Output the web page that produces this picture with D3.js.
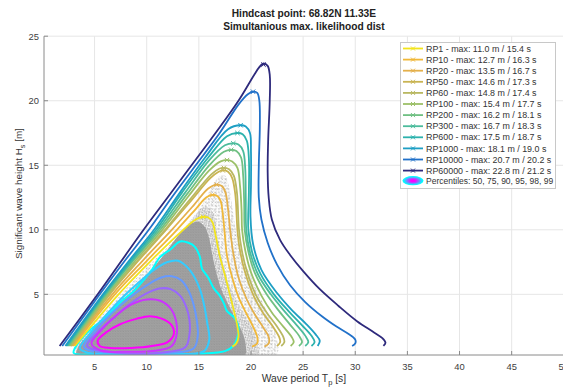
<!DOCTYPE html>
<html><head><meta charset="utf-8">
<script src="https://cdn.jsdelivr.net/npm/d3@7"></script>
<style>body{margin:0;background:#fff}svg{display:block;font-family:"Liberation Sans",Arial,sans-serif}</style>
</head><body><svg id="c" width="563" height="390"></svg>
<script>
// ---------- data ----------
const titleLines = ["Hindcast point: 68.82N 11.33E", "Simultanious max. likelihood dist"];
const xTicks = [5, 10, 15, 20, 25, 30, 35, 40, 45, 50];
const yTicks = [5, 10, 15, 20, 25];
const rpLabels = ["RP1","RP10","RP20","RP50","RP60","RP100","RP200","RP300","RP600","RP1000","RP10000","RP60000"];
const rpMaxHs = [11.0, 12.7, 13.5, 14.6, 14.8, 15.4, 16.2, 16.7, 17.5, 18.1, 20.7, 22.8];
const rpMaxTp = [15.4, 16.3, 16.7, 17.3, 17.4, 17.7, 18.1, 18.3, 18.7, 19.0, 20.2, 21.2];
const rpColors = ["#f2e41c","#f0b83a","#e4b04c","#c9b453","#b9b862","#9cc068","#70c083","#4cbc9c","#2cb2ad","#1e9fc4","#2171c9","#2e2a7c"];

// contour curves [Tp, Hs]
const rp1 = [[3.1,1.0],[7.3,5.0],[10.4,7.6],[13.5,10.0],[14.7,10.8],[15.4,11.0],[15.9,10.95],[16.3,10.6],[16.6,9.6],[17.0,8.0],[17.5,6.5],[18.0,4.9],[18.4,3.6],[18.7,2.5],[18.8,1.7],[18.6,1.2],[18.2,0.95]];
const rp10 = [[2.95,1.0],[6.95,5.0],[9.9,7.5],[12.9,10.0],[14.8,11.7],[15.7,12.5],[16.3,12.7],[16.8,12.6],[17.1,12.2],[17.3,11.2],[17.45,10.0],[17.7,8.0],[18.2,6.3],[18.8,4.8],[19.5,3.6],[20.2,2.5],[20.6,1.7],[20.6,1.2],[20.1,0.95]];
const rp20 = [[2.85,1.0],[6.7,5.0],[9.6,7.6],[12.4,10.0],[14.5,11.9],[15.9,13.2],[16.7,13.5],[17.2,13.4],[17.55,12.9],[17.8,11.6],[18.0,10.0],[18.3,8.2],[18.8,6.3],[19.6,4.6],[20.4,3.4],[21.2,2.4],[21.7,1.7],[21.7,1.2],[21.3,0.95]];
const rp50 = [[2.75,1.0],[6.45,5.0],[9.2,7.6],[11.85,10.0],[14.2,12.2],[16.1,14.0],[16.9,14.5],[17.3,14.6],[17.8,14.5],[18.2,14.0],[18.5,12.7],[18.7,10.0],[18.9,8.6],[19.4,6.8],[20.3,4.8],[21.2,3.5],[22.1,2.5],[22.7,1.7],[22.8,1.3],[22.5,1.0]];
const rp60 = [[2.7,1.0],[6.4,5.0],[9.1,7.6],[11.75,10.0],[14.2,12.4],[16.2,14.3],[17.0,14.75],[17.4,14.8],[17.9,14.7],[18.35,14.2],[18.65,12.9],[18.85,10.0],[19.1,8.5],[19.6,6.8],[20.5,4.9],[21.5,3.6],[22.5,2.5],[23.1,1.7],[23.2,1.3],[22.9,1.0]];
const rp100 = [[2.6,1.0],[6.25,5.0],[8.9,7.6],[11.5,10.0],[14.0,12.6],[16.0,14.6],[17.1,15.3],[17.7,15.4],[18.2,15.3],[18.7,14.8],[18.95,13.4],[19.1,11.5],[19.15,10.0],[19.45,8.4],[20.0,6.7],[21.0,4.9],[22.0,3.6],[23.1,2.5],[23.9,1.7],[24.1,1.3],[23.8,1.0]];
const rp200 = [[2.5,1.0],[6.1,5.0],[8.7,7.6],[11.3,10.0],[13.9,12.8],[16.0,15.0],[17.4,16.05],[18.1,16.2],[18.6,16.1],[19.05,15.6],[19.25,14.2],[19.35,12.0],[19.4,10.0],[19.75,8.3],[20.4,6.6],[21.5,5.0],[22.7,3.7],[23.8,2.6],[24.6,1.8],[24.9,1.3],[24.6,1.0]];
const rp300 = [[2.4,1.0],[6.0,5.0],[8.6,7.6],[11.1,10.0],[13.7,12.9],[16.0,15.4],[17.5,16.55],[18.3,16.7],[18.8,16.6],[19.25,16.1],[19.45,14.7],[19.5,12.5],[19.55,10.0],[19.9,8.3],[20.7,6.5],[21.9,5.0],[23.2,3.7],[24.4,2.6],[25.2,1.8],[25.5,1.3],[25.2,1.0]];
const rp600 = [[2.3,1.0],[5.9,5.0],[8.45,7.6],[10.9,10.0],[13.4,12.9],[15.9,15.6],[17.7,17.25],[18.7,17.5],[19.2,17.4],[19.6,16.9],[19.8,15.5],[19.8,13.0],[19.75,10.0],[20.1,8.3],[20.9,6.6],[22.2,5.0],[23.6,3.7],[24.9,2.6],[25.8,1.8],[26.1,1.3],[25.8,1.0]];
const rp1000 = [[2.2,1.0],[5.8,5.0],[8.3,7.6],[10.7,10.0],[13.2,12.9],[15.6,15.6],[17.8,17.8],[19.0,18.1],[19.5,18.0],[19.9,17.5],[20.0,16.0],[20.0,13.5],[19.95,11.0],[20.2,8.9],[21.0,6.9],[22.5,5.1],[23.9,3.8],[25.3,2.7],[26.2,1.9],[26.6,1.4],[26.4,1.0]];
const rp10000 = [[1.9,1.0],[5.5,5.0],[7.9,7.6],[10.2,10.0],[12.4,12.5],[14.7,15.0],[17.0,17.5],[18.8,19.7],[19.7,20.5],[20.2,20.7],[20.6,20.6],[20.8,20.0],[20.85,18.0],[20.75,15.0],[20.75,12.5],[21.0,10.8],[21.6,9.0],[22.5,7.3],[23.75,5.7],[25.2,4.4],[26.8,3.3],[28.2,2.5],[29.4,1.9],[30.0,1.5],[30.0,1.2],[29.7,1.0]];
const rp60000 = [[1.65,1.0],[5.3,5.0],[7.5,7.5],[9.7,10.0],[12.0,12.5],[14.3,15.0],[16.6,17.5],[18.8,20.0],[20.3,22.0],[20.8,22.6],[21.2,22.9],[21.6,22.7],[21.8,22.0],[21.8,20.0],[21.65,17.0],[21.6,14.5],[21.7,12.5],[22.0,10.8],[22.8,9.2],[23.75,8.05],[25.0,6.8],[26.6,5.4],[28.4,4.1],[30.2,2.9],[31.7,2.1],[32.6,1.6],[32.9,1.25],[32.7,1.0]];
const rpCurves = [rp1, rp10, rp20, rp50, rp60, rp100, rp200, rp300, rp600, rp1000, rp10000, rp60000];

// percentile contours [Tp, Hs]
const pctLabels = [50, 75, 90, 95, 98, 99];
const pctColors = ["#ff00ff","#cc33ff","#9966ff","#6699ff","#33ccff","#00ffff"];
const p50 = [[5.3,1.4],[6.2,2.1],[7.5,2.7],[9.0,3.1],[10.3,3.3],[11.5,3.1],[12.4,2.6],[12.6,1.9],[12.0,1.3],[10.5,1.0],[8.5,0.85],[6.5,0.85],[5.5,1.0]];
const p75 = [[4.7,1.2],[5.6,2.2],[7.0,3.3],[8.5,4.2],[10.0,4.6],[11.3,4.5],[12.3,3.9],[12.8,3.0],[12.9,2.0],[12.4,1.0],[11.0,0.65],[8.0,0.55],[5.6,0.65]];
const p90 = [[4.3,1.0],[5.2,2.0],[6.7,3.1],[8.3,4.2],[9.8,5.0],[11.2,5.45],[12.3,5.4],[13.2,4.9],[13.8,4.0],[14.1,3.0],[14.1,1.9],[13.7,0.9],[11.5,0.5],[7.0,0.5]];
const p95 = [[4.0,0.9],[5.0,2.1],[6.6,3.5],[8.3,4.7],[10.0,5.7],[11.4,6.3],[12.4,6.4],[13.3,6.1],[14.0,5.3],[14.5,4.2],[14.8,3.0],[14.9,1.8],[14.5,0.8],[12.0,0.45],[7.0,0.45]];
const p98 = [[3.6,0.8],[4.5,1.9],[6.0,3.3],[7.6,4.7],[9.2,5.9],[10.7,6.9],[12.0,7.5],[13.0,7.6],[13.9,7.1],[14.6,6.3],[15.1,5.4],[15.5,4.2],[15.8,2.8],[16.0,1.5],[15.5,0.6],[12.0,0.35],[7.0,0.35],[4.5,0.45]];
const p99 = [[3.0,0.45],[3.4,1.2],[4.5,2.2],[6.2,3.3],[7.5,4.4],[8.7,5.2],[9.8,6.2],[10.5,6.9],[11.3,7.9],[12.3,8.5],[13.2,9.1],[14.0,9.0],[14.6,8.7],[15.1,7.9],[15.3,7.0],[15.9,6.3],[16.4,5.5],[17.0,4.9],[17.4,4.3],[17.7,3.7],[18.4,3.2],[18.8,2.5],[18.7,1.7],[18.3,1.0],[17.5,0.6],[15.0,0.4],[10.0,0.35],[5.0,0.35]];
const pctCurves = [p50, p75, p90, p95, p98, p99];

// hindcast data cloud envelopes [Tp, Hs]
const scatterSparse = [[3.3,0.3],[3.4,1.2],[7.3,4.8],[10.4,7.4],[13.4,9.8],[14.8,11.2],[15.6,12.4],[16.3,13.4],[16.9,14.1],[17.5,14.2],[17.9,13.3],[18.2,11.8],[18.6,9.8],[19.3,7.8],[20.2,6.0],[21.1,4.4],[21.9,3.0],[22.4,1.8],[22.4,0.3]];
const scatterMid = [[3.3,0.3],[3.4,1.1],[5.5,2.9],[8.0,4.9],[10.5,7.0],[12.6,8.9],[13.8,10.3],[14.8,11.3],[15.6,11.8],[16.3,11.4],[16.7,10.0],[17.1,8.2],[17.6,6.6],[18.3,5.0],[19.2,3.6],[20.1,2.4],[20.6,1.2],[20.6,0.3]];
const scatterDense = [[3.3,0.3],[3.5,1.0],[4.8,2.2],[6.5,3.6],[8.2,4.9],[9.8,6.3],[11.2,7.6],[12.4,8.9],[13.4,9.9],[14.3,10.5],[15.0,10.6],[15.6,10.2],[16.0,9.3],[16.3,8.0],[16.7,6.6],[17.2,5.3],[17.9,4.1],[18.6,3.0],[19.2,2.0],[19.5,1.0],[19.4,0.3]];

// ---------- drawing ----------
const svg = d3.select("#c");
const L = 44, R = 563.8, T = 36.2, B = 355;
const x = d3.scaleLinear().domain([0.15, 50]).range([L, R]);
const y = d3.scaleLinear().domain([0.3, 25]).range([B, T]);

const defs = svg.append("defs");
defs.append("clipPath").attr("id","clip").append("rect").attr("x",L).attr("y",T).attr("width",R-L).attr("height",B-T);
function xPattern(id, w, h, col, rot, bg) {
  const p = defs.append("pattern").attr("id",id).attr("width",w).attr("height",h).attr("patternUnits","userSpaceOnUse");
  if (rot) p.attr("patternTransform",`rotate(${rot})`);
  if (bg) p.append("rect").attr("width",w).attr("height",h).attr("fill",bg);
  p.append("path").attr("d","M0.2,0.2L2,2M2,0.2L0.2,2").attr("stroke",col).attr("stroke-width",0.6);
}
xPattern("xa", 3.3, 3.3, "#b0b0b0", 0);
xPattern("xb", 4.7, 4.1, "#b8b8b8", 20);
xPattern("xm", 2.4, 2.4, "#a4a4a4", 35);
xPattern("xd", 2.6, 2.6, "#939393", 0, "#a2a2a2");

// grid
const grid = svg.append("g");
grid.selectAll("line.gx").data(xTicks).join("line")
  .attr("x1",d=>x(d)).attr("x2",d=>x(d)).attr("y1",T).attr("y2",B).attr("stroke","#e6e6e6");
grid.selectAll("line.gy").data(yTicks).join("line")
  .attr("x1",L).attr("x2",R).attr("y1",d=>y(d)).attr("y2",d=>y(d)).attr("stroke","#e6e6e6");

const plot = svg.append("g").attr("clip-path","url(#clip)");
const closed = d3.line().x(d=>x(d[0])).y(d=>y(d[1])).curve(d3.curveCatmullRomClosed.alpha(0.5));
plot.append("path").attr("d",closed(scatterSparse)).attr("fill","url(#xa)");
plot.append("path").attr("d",closed(scatterSparse)).attr("fill","url(#xb)");
plot.append("path").attr("d",closed(scatterMid)).attr("fill","url(#xm)");
plot.append("path").attr("d",closed(scatterDense)).attr("fill","url(#xd)");

// percentile contours (outer first)
for (let i = pctCurves.length-1; i >= 0; i--) {
  plot.append("path").attr("d",closed(pctCurves[i])).attr("fill","none")
    .attr("stroke",pctColors[i]).attr("stroke-width",2).attr("stroke-linejoin","round");
}

// return-period contours
const open = d3.line().x(d=>x(d[0])).y(d=>y(d[1])).curve(d3.curveCatmullRom.alpha(0.5));
rpCurves.forEach((c,i)=>{
  plot.append("path").attr("d",open(c)).attr("fill","none")
    .attr("stroke",rpColors[i]).attr("stroke-width",1.8).attr("stroke-linejoin","round");
});
function star(g, cx, cy, col, s) {
  g.append("path").attr("d",`M${cx-s},${cy-s}L${cx+s},${cy+s}M${cx-s},${cy+s}L${cx+s},${cy-s}M${cx-s*1.2},${cy}L${cx+s*1.2},${cy}`)
   .attr("stroke",col).attr("stroke-width",1);
}
rpMaxTp.forEach((t,i)=>star(plot, x(t), y(rpMaxHs[i]), rpColors[i], 2.2));

// axes
const ax = svg.append("g").attr("font-size",9.4).attr("fill","#404040");
ax.append("line").attr("x1",L).attr("x2",L).attr("y1",T).attr("y2",B).attr("stroke","#8a8a8a");
ax.append("line").attr("x1",L).attr("x2",R).attr("y1",B).attr("y2",B).attr("stroke","#8a8a8a");
xTicks.forEach(t=>{
  ax.append("line").attr("x1",x(t)).attr("x2",x(t)).attr("y1",B).attr("y2",B-4).attr("stroke","#8a8a8a");
  ax.append("text").attr("x",x(t)).attr("y",369.5).attr("text-anchor","middle").text(t);
});
yTicks.forEach(t=>{
  ax.append("line").attr("x1",L).attr("x2",L+4).attr("y1",y(t)).attr("y2",y(t)).attr("stroke","#8a8a8a");
  ax.append("text").attr("x",39).attr("y",y(t)+3.3).attr("text-anchor","end").text(t);
});
const xl = ax.append("text").attr("x",(L+R)/2).attr("y",382).attr("text-anchor","middle").attr("font-size",10.3).attr("fill","#333");
xl.append("tspan").text("Wave period T");
xl.append("tspan").attr("dy",3).attr("font-size",7.5).text("p");
xl.append("tspan").attr("dy",-3).text(" [s]");
const yl = ax.append("text").attr("transform",`translate(22,${(T+B)/2 - 2}) rotate(-90)`).attr("text-anchor","middle").attr("font-size",9.9).attr("fill","#333");
yl.append("tspan").text("Significant wave height H");
yl.append("tspan").attr("dy",3).attr("font-size",7.2).text("s");
yl.append("tspan").attr("dy",-3).text(" [m]");

// title
svg.selectAll("text.title").data(titleLines).join("text")
  .attr("x",(L+R)/2).attr("y",(d,i)=>17+i*13.3).attr("text-anchor","middle")
  .attr("font-weight","bold").attr("font-size",10.2).attr("fill","#222").text(d=>d);

// legend
const lg = svg.append("g");
lg.append("rect").attr("x",400.5).attr("y",42.5).attr("width",155).attr("height",146).attr("fill","#fff").attr("stroke","#c8c8c8");
rpLabels.forEach((lab,i)=>{
  const yy = 48.5 + i*11.1;
  lg.append("line").attr("x1",403).attr("x2",423).attr("y1",yy).attr("y2",yy).attr("stroke",rpColors[i]).attr("stroke-width",1.8);
  star(lg, 413, yy, rpColors[i], 2);
  lg.append("text").attr("x",426).attr("y",yy+3.1).attr("font-size",8.9).attr("fill","#333")
    .text(`${lab} - max: ${rpMaxHs[i].toFixed(1)} m / ${rpMaxTp[i].toFixed(1)} s`);
});
const py = 48.5 + 12*11.1 - 1;
const ell = [[10.5,4.6],[9,3.9],[7.5,3.3],[6,2.7],[4.5,2.1],[3,1.4]];
ell.forEach((e,k)=>{
  const ci = pctColors.length-1-k;
  lg.append("ellipse").attr("cx",413).attr("cy",py).attr("rx",e[0]).attr("ry",e[1]).attr("fill",pctColors[ci]);
});
lg.append("text").attr("x",426).attr("y",py+3.1).attr("font-size",8.5).attr("fill","#333")
  .text("Percentiles: " + pctLabels.join(", "));
</script></body></html>
